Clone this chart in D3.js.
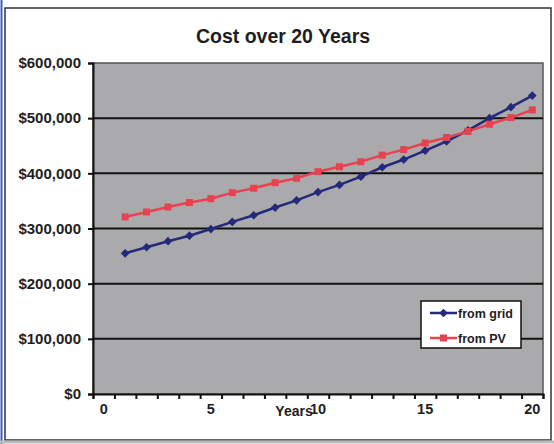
<!DOCTYPE html>
<html>
<head>
<meta charset="utf-8">
<script src="https://d3js.org/d3.v7.min.js"></script>
<style>
  body { margin: 0; background: #fff; }
  svg text { font-family: "Liberation Sans", Arial, sans-serif; font-weight: bold; fill: #1e1e1e; }
</style>
</head>
<body>
<div id="chart"></div>
<script>
    // values
    var years = [1, 2, 3, 4, 5, 6, 7, 8, 9, 10, 11, 12, 13, 14, 15, 16, 17, 18, 19, 20];
    var fromGrid = [255000, 266000, 277000, 287000, 299000, 312000, 324000, 338000, 351000, 366000,
                    379000, 394000, 411000, 425000, 441000, 458000, 478000, 500000, 520000, 541000];
    var fromPV = [321000, 330000, 339000, 347000, 354000, 365000, 373000, 383000, 391000, 403000,
                  412000, 421000, 433000, 443000, 455000, 465000, 476000, 489000, 501000, 515000];
    var yTicks = [0, 100000, 200000, 300000, 400000, 500000, 600000];
    var xLabels = [0, 5, 10, 15, 20];
    var seriesNames = ["from grid", "from PV"];

    var width = 554, height = 444;
    var plot = { left: 93, right: 543, top: 63, bottom: 394 };

    var svg = d3.select("#chart").append("svg")
        .attr("width", width)
        .attr("height", height);

    // outer frame
    svg.append("line").attr("x1", 1.5).attr("x2", 1.5).attr("y1", 0).attr("y2", height)
        .attr("stroke", "#3f5fc0").attr("stroke-width", 2);
    svg.append("rect").attr("x", 5).attr("y", 8).attr("width", 546).attr("height", 432)
        .attr("fill", "#fff").attr("stroke", "#333").attr("stroke-width", 1.5);
    svg.append("line").attr("x1", 0).attr("x2", width).attr("y1", 442).attr("y2", 442)
        .attr("stroke", "#bbb").attr("stroke-width", 3);

    var x = d3.scaleLinear().domain([-0.5, 20.5]).range([plot.left, plot.right]);
    var y = d3.scaleLinear().domain([0, 600000]).range([plot.bottom, plot.top]);

    // plot background
    svg.append("rect")
        .attr("x", plot.left).attr("y", plot.top)
        .attr("width", plot.right - plot.left).attr("height", plot.bottom - plot.top)
        .attr("fill", "#aaaaac").attr("stroke", "#555").attr("stroke-width", 1.5);

    // gridlines
    svg.append("g").selectAll("line")
        .data(yTicks.slice(1, -1))
        .enter().append("line")
        .attr("x1", plot.left).attr("x2", plot.right)
        .attr("y1", function (d) { return y(d); })
        .attr("y2", function (d) { return y(d); })
        .attr("stroke", "#111").attr("stroke-width", 2);

    // y axis
    var yAxis = svg.append("g")
        .attr("transform", "translate(" + plot.left + ",0)")
        .call(d3.axisLeft(y).tickValues(yTicks).tickSize(5).tickPadding(7)
            .tickFormat(function (d) { return "$" + d3.format(",")(d); }));
    yAxis.select(".domain").attr("stroke", "#111").attr("stroke-width", 2);
    yAxis.selectAll(".tick line").attr("stroke", "#111").attr("stroke-width", 2);
    yAxis.selectAll("text").style("font-size", "15px").attr("fill", "#1e1e1e");

    // x axis: ticks between categories, labels on every fifth category
    var xTickPos = d3.range(-0.5, 21, 1);
    var xAxis = svg.append("g")
        .attr("transform", "translate(0," + plot.bottom + ")")
        .call(d3.axisBottom(x).tickValues(xTickPos).tickSize(5).tickFormat(""));
    xAxis.select(".domain").attr("stroke", "#111").attr("stroke-width", 2);
    xAxis.selectAll(".tick line").attr("stroke", "#111").attr("stroke-width", 2);

    svg.append("g").selectAll("text")
        .data(xLabels)
        .enter().append("text")
        .attr("x", function (d) { return x(d); })
        .attr("y", 414)
        .attr("text-anchor", "middle")
        .style("font-size", "14.5px")
        .text(function (d) { return d; });

    // axis title sits on top of the "10" label as in the original
    svg.append("text")
        .attr("x", 294).attr("y", 416)
        .attr("text-anchor", "middle")
        .style("font-size", "14px")
        .text("Years");

    // title
    svg.append("text")
        .attr("x", 283).attr("y", 43)
        .attr("text-anchor", "middle")
        .style("font-size", "19.5px")
        .text("Cost over 20 Years");

    // series
    var colors = ["#25297a", "#e8414f"];
    var series = [fromGrid, fromPV];
    var line = d3.line()
        .x(function (d, i) { return x(years[i]); })
        .y(function (d) { return y(d); });

    series.forEach(function (vals, k) {
        svg.append("path")
            .datum(vals)
            .attr("fill", "none")
            .attr("stroke", colors[k])
            .attr("stroke-width", 2.5)
            .attr("d", line);
    });

    // markers: diamonds are rotated squares
    var diamond = d3.symbol().type(d3.symbolSquare).size(38);
    svg.append("g").selectAll("path")
        .data(fromGrid)
        .enter().append("path")
        .attr("transform", function (d, i) { return "translate(" + x(years[i]) + "," + y(d) + ") rotate(45)"; })
        .attr("d", diamond)
        .attr("fill", colors[0]);

    svg.append("g").selectAll("rect")
        .data(fromPV)
        .enter().append("rect")
        .attr("x", function (d, i) { return x(years[i]) - 3.5; })
        .attr("y", function (d) { return y(d) - 3.5; })
        .attr("width", 7).attr("height", 7)
        .attr("fill", colors[1]);

    // legend
    var legend = svg.append("g").attr("transform", "translate(421,301)");
    legend.append("rect")
        .attr("width", 100).attr("height", 47)
        .attr("fill", "#fff").attr("stroke", "#111").attr("stroke-width", 1.5);

    seriesNames.forEach(function (name, k) {
        var ly = 12 + k * 25;
        legend.append("line")
            .attr("x1", 9).attr("x2", 36).attr("y1", ly).attr("y2", ly)
            .attr("stroke", colors[k]).attr("stroke-width", 2.5);
        if (k === 0) {
            legend.append("path")
                .attr("transform", "translate(22.5," + ly + ") rotate(45)")
                .attr("d", diamond)
                .attr("fill", colors[k]);
        } else {
            legend.append("rect")
                .attr("x", 19).attr("y", ly - 3.5).attr("width", 7).attr("height", 7)
                .attr("fill", colors[k]);
        }
        legend.append("text")
            .attr("x", 37).attr("y", ly + 4.5)
            .style("font-size", "12.5px")
            .text(name);
    });
</script>
</body>
</html>
